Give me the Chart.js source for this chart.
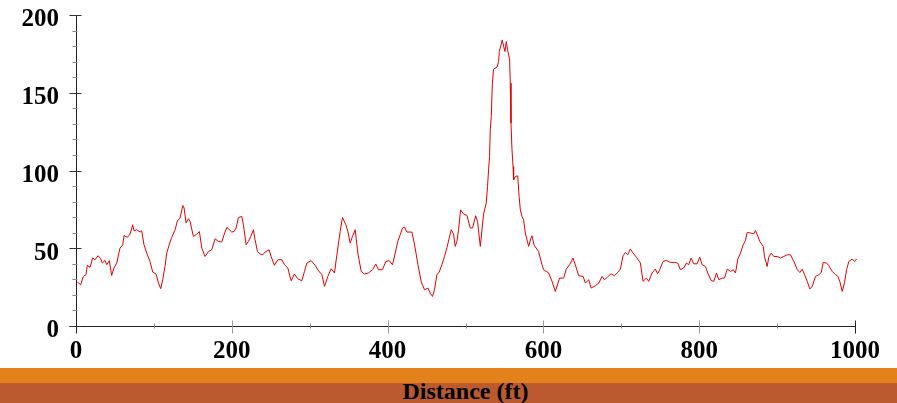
<!DOCTYPE html>
<html>
<head>
<meta charset="utf-8">
<script src="https://cdn.jsdelivr.net/npm/chart.js@4/dist/chart.umd.min.js"></script>
<style>
  html, body { margin: 0; padding: 0; background: #fff; overflow: hidden; }
  #wrap { position: relative; width: 897px; height: 403px; overflow: hidden; }
  #plot { position: absolute; left: 0; top: 0; width: 897px; height: 368px; }
  .band-top { position: absolute; left: 0; top: 368px; width: 897px; height: 15px; background: #e3821a; }
  .band-bottom { position: absolute; left: 0; top: 383px; width: 897px; height: 20px; background: #bc5a2f; }
  #xtitle {
    position: absolute; left: 76px; width: 779px; top: 379px;
    text-align: center; font: bold 24px 'Liberation Serif', 'Times New Roman', serif;
    line-height: 24px; color: #000; white-space: nowrap;
  }
</style>
</head>
<body>
<div id="wrap">
  <div id="plot"><canvas id="profileChart" width="897" height="368"></canvas></div>
  <div class="band-top"></div>
  <div class="band-bottom"></div>
  <div id="xtitle">Distance (ft)</div>
</div>
<script>
// Profile readings along the run
const distance = [
  1.7, 6, 9.4, 12.8, 14.5, 18, 21.4, 24.4, 28.3, 31.7, 33.8, 37.3, 39.4, 42.8, 45.8, 48.8, 52.3, 56.5, 60, 61.7,
  65.9, 69.4, 72.8, 74.5, 78, 82.2, 84.4, 87.3, 91.6, 95, 98.5, 102.8, 105.8, 108.8, 111.3, 114.3, 116.5, 119.9, 122.9, 127.2,
  130.2, 133.6, 137.1, 138.8, 141.3, 144.3, 146.4, 150.7, 155, 158.4, 161.5, 165.7, 170, 174.3, 178.5, 182.8, 187.1, 190.1, 193.6, 196.9,
  200, 203, 205.5, 208.5, 212.8, 214.9, 218.4, 221.3, 224.4, 227.7, 229.9, 232.9, 236.4, 239.8, 242.8, 247.9, 250.5, 254.7, 259.1, 264.2,
  267.6, 271.9, 276.2, 280.4, 284.8, 289.9, 293.3, 296.4, 301.9, 307, 311.3, 315.6, 319, 323.3, 327.5, 331.8, 334.9, 339.1, 342.1, 346.4,
  349, 352, 354.9, 358.4, 361.8, 366.1, 370.3, 375.5, 380.6, 384.9, 388.3, 393.4, 397.8, 402, 406.3, 409.8, 413.1, 416.2, 419.1, 421.7,
  424.8, 431.2, 434.6, 439, 443.2, 447.4, 451.8, 454.7, 457.7, 460.2, 463.3, 466.3, 469.7, 473.1, 476.2, 479.1, 481.7, 484.7, 486.8, 489,
  491.1, 493.7, 497.5, 501.9, 506.1, 509.1, 513, 515.5, 519, 523.2, 526.6, 528.3, 529.6, 530.9, 531.8, 533.1, 534.4, 536, 540.5, 542.5,
  543.4, 545.6, 547.2, 549, 550.7, 552.4, 554, 556.6, 557.5, 558.4, 559.7, 561, 561.8, 564, 567, 568.8, 570.4, 572.6, 574.6, 576.8,
  581.1, 584.1, 585.4, 588, 593.8, 598.2, 600.3, 606.7, 611.1, 615.3, 620.8, 626, 629.4, 633.7, 638, 641, 645.3, 651, 653.9, 658.2,
  661.3, 666.7, 671.1, 675.4, 678.2, 682.4, 686.8, 691.1, 695.4, 698.8, 702.3, 705.2, 708.2, 711.6, 715.1, 720.2, 724.5, 727.9, 732.2, 735.2,
  739.5, 743.7, 746.7, 749.3, 753.6, 757.9, 763, 768.2, 772.4, 775.9, 780.1, 783.6, 786.5, 789.6, 793, 797.3, 800.7, 803.8, 808, 811,
  815.3, 818.7, 822.2, 825.2, 829.5, 832.5, 836, 840.2, 843.7, 846.6, 849.6, 853, 856.5, 859.4, 861.6, 865.9, 870.1, 872.3, 874.5, 877.8,
  882.2, 883.8, 887.3, 889.3, 892.4, 895.8, 900.1, 904.3, 908.6, 913, 917.2, 921.5, 925.9, 929.2, 932.3, 935.2, 938.7, 942, 945.1, 949.3,
  953.6, 956.7, 959.2, 963.5, 966.4, 970.8, 975, 978, 980.5, 983.6, 986.6, 989.2, 992.1, 996.5, 999.5, 1002
];
const reading = [
  28.3, 26.5, 31.9, 33, 39, 37.7, 43.7, 42.6, 45.2, 43.2, 40.5, 42.2, 39.4, 42, 32.5, 37.3, 40.5, 50.1, 52.2, 58.2,
  57, 59.1, 65.1, 61.2, 61.9, 60.4, 61.2, 52.2, 45.8, 41.5, 34.7, 33.4, 27.6, 24, 29.8, 38.3, 46.9, 52.7, 57, 61.9,
  67.7, 69.4, 77.5, 75.8, 66.2, 69, 67.2, 57.6, 59.1, 60.8, 50.1, 44.7, 47.9, 49, 56.1, 54.4, 54, 58.7, 63.4, 61.9,
  60.4, 60.8, 63, 69.8, 70.4, 65.1, 52.2, 54.4, 57.6, 61.9, 55.5, 47.9, 46.3, 45.8, 47.6, 49, 44.7, 39, 42.6, 42.6,
  39.4, 37.3, 29.1, 33.4, 30.4, 29.1, 35.1, 40.5, 42, 39, 35.5, 33, 25.5, 31.9, 36.8, 34.1, 45.8, 60.8, 69.8, 65.1,
  60.8, 53.3, 57.6, 61.9, 46.9, 35.1, 33.4, 34.1, 36.2, 39.8, 36.2, 36.2, 41.5, 42, 39.4, 46.9, 54.4, 58.7, 63, 63.6,
  60.4, 60.4, 52.2, 39.4, 28.3, 23.3, 24.4, 21.2, 19, 23.3, 33, 34.7, 39.4, 44.7, 50.5, 56.6, 61.9, 59.1, 51.2, 54.4,
  61.9, 74.7, 72, 71.1, 63, 63, 70.9, 67.2, 51.2, 72, 79, 89.7, 100.4, 109, 126.2, 134.7, 155.1, 165.2, 166.5, 170.1,
  176.5, 180.8, 184, 179.7, 176.5, 182.9, 177.6, 171.6, 156.2, 130.5, 113.3, 102.6, 94, 96.1, 96.6, 83.3, 74.7, 70.4, 68.3, 59.8,
  51.2, 56.6, 58, 52, 47.9, 39.4, 36.2, 34.1, 28.7, 22.2, 30.8, 30.8, 36.6, 39.4, 43.7, 39.4, 32.3, 31.9, 27.6, 29.8,
  24.4, 25.9, 27.6, 31.9, 29.8, 31.5, 33.6, 32.3, 34.4, 36.6, 45.2, 47.3, 45.8, 49.5, 46.9, 43.7, 40.5, 28.7, 30.8, 28.7,
  34.1, 36.6, 33.6, 36.2, 41.5, 42.2, 40.9, 40.9, 40.5, 36.2, 37.3, 40.5, 39.4, 43.7, 40, 40, 44.3, 39.4, 38.3, 34.1,
  29.3, 28.7, 34.1, 29.8, 30.8, 30.8, 36.6, 35.1, 36.2, 34.1, 43.1, 46.9, 52.2, 55, 60.2, 59.8, 59.3, 61.4, 58.7, 54.4,
  51.2, 44.7, 38.3, 44.3, 46.9, 44.7, 44.7, 43.7, 44.7, 45.8, 45.8, 41.5, 36.2, 34.4, 36.6, 33, 28.7, 23.8, 25.5, 31.9,
  33, 34.4, 40.9, 40.5, 38.8, 35.1, 33, 31.9, 28.7, 22.2, 28, 36.2, 41.5, 43.1, 41.5, 43.1
];

// Axis ranges and labelled ticks
const xRange = [0, 1000];
const yRange = [0, 200];
const xLabelled = [0, 200, 400, 600, 800, 1000];
const yLabelled = [0, 50, 100, 150, 200];

const tickFont = { family: "'Liberation Serif', 'Times New Roman', serif", size: 25, weight: 'bold' };

// Axis lines plus long/short tick marks that cross the axes
const axisTicks = {
  id: 'axisTicks',
  afterDraw(chart) {
    const { ctx, chartArea, scales } = chart;
    const left = Math.round(chartArea.left) + 0.5;
    const bottom = Math.round(chartArea.bottom) + 0.5;
    ctx.save();
    ctx.lineWidth = 1;

    ctx.strokeStyle = '#222';
    ctx.beginPath();
    ctx.moveTo(left, Math.round(scales.y.getPixelForValue(yRange[1])));
    ctx.lineTo(left, bottom + 6);
    ctx.moveTo(left - 7, bottom);
    ctx.lineTo(Math.round(scales.x.getPixelForValue(xRange[1])) + 1, bottom);
    ctx.stroke();

    scales.y.ticks.forEach(t => {
      const py = Math.round(scales.y.getPixelForValue(t.value)) + 0.5;
      const major = yLabelled.includes(t.value);
      ctx.strokeStyle = major ? '#333' : '#8a8a8a';
      ctx.beginPath();
      ctx.moveTo(left - (major ? 7 : 4), py);
      ctx.lineTo(left + (major ? 5 : 1), py);
      ctx.stroke();
    });

    scales.x.ticks.forEach(t => {
      const px = Math.round(scales.x.getPixelForValue(t.value)) + 0.5;
      const major = xLabelled.includes(t.value);
      const edge = t.value === xRange[0] || t.value === xRange[1];
      ctx.strokeStyle = edge ? '#222' : (major ? '#999' : '#8a8a8a');
      ctx.beginPath();
      ctx.moveTo(px, bottom - (major ? 6 : 3));
      ctx.lineTo(px, bottom + (major ? 7 : 2));
      ctx.stroke();
    });
    ctx.restore();
  }
};

const ctx = document.getElementById('profileChart').getContext('2d');
const profileChart = new Chart(ctx, {
  type: 'line',
  data: {
    datasets: [{
      data: distance.map((d, i) => ({ x: d, y: reading[i] })),
      borderColor: '#e00000',
      borderWidth: 1,
      pointRadius: 0,
      tension: 0,
      fill: false,
      clip: false
    }]
  },
  options: {
    responsive: false,
    animation: false,
    layout: { padding: { top: 15, right: 42, left: 0, bottom: 0 } },
    plugins: {
      legend: { display: false },
      tooltip: { enabled: false }
    },
    scales: {
      x: {
        type: 'linear',
        min: xRange[0],
        max: xRange[1],
        afterFit(scale) {
          scale.height = 42;
          scale.paddingLeft = 0;
          scale.paddingRight = 0;
        },
        grid: { drawOnChartArea: false, drawTicks: false },
        border: { display: false },
        ticks: {
          stepSize: 100,
          autoSkip: false,
          maxRotation: 0,
          padding: 11,
          color: '#000',
          font: tickFont,
          callback: v => xLabelled.includes(v) ? String(v) : ''
        }
      },
      y: {
        min: yRange[0],
        max: yRange[1],
        afterFit(scale) {
          scale.width = 76;
          scale.paddingTop = 0;
          scale.paddingBottom = 0;
        },
        grid: { drawOnChartArea: false, drawTicks: false },
        border: { display: false },
        ticks: {
          stepSize: 10,
          autoSkip: false,
          padding: 17,
          labelOffset: 5,
          color: '#000',
          font: tickFont,
          callback: v => yLabelled.includes(v) ? String(v) : ''
        }
      }
    }
  },
  plugins: [axisTicks]
});
</script>
</body>
</html>
